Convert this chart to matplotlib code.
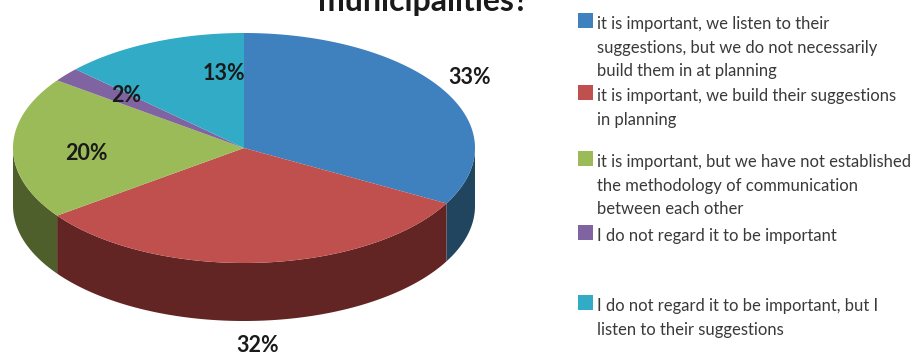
import numpy as np
import matplotlib.pyplot as plt
from matplotlib.patches import Rectangle

# ── Data ──────────────────────────────────────────────────────
shares = [33, 32, 20, 2, 13]
labels = [
    "it is important, we listen to their\nsuggestions, but we do not necessarily\nbuild them in at planning",
    "it is important, we build their suggestions\nin planning",
    "it is important, but we have not established\nthe methodology of communication\nbetween each other",
    "I do not regard it to be important",
    "I do not regard it to be important, but I\nlisten to their suggestions",
]
top_colors = ["#3f80bf", "#c0504d", "#9bbb59", "#8064a2", "#31abc6"]
side_colors = ["#21445f", "#622523", "#4f5f2c", "#403251", "#185664"]

# ── Layout (pixel space, y down) ──────────────────────────────
W, H = 924, 358
CX, CY = 244, 148          # centre of the top face
RX, RY = 231, 115          # ellipse radii
DEPTH = 58                 # thickness of the disc
label_xy = [(470, 77), (258, 346), (86, 154), (126, 96), (224, 73)]
legend_y = [20, 92, 158, 232, 302]

FONT = "Lato"

fig = plt.figure(figsize=(W / 100, H / 100), dpi=100)
ax = fig.add_axes([0, 0, 1, 1])
ax.set_xlim(0, W)
ax.set_ylim(H, 0)
ax.axis("off")


def ell(t, dy=0.0):
    t = np.radians(t)
    return CX + RX * np.cos(t), CY - RY * np.sin(t) + dy


# slice boundaries, clockwise from 12 o'clock
fracs = np.array(shares, dtype=float) / sum(shares)
starts = 90 - 360 * np.concatenate([[0], np.cumsum(fracs)[:-1]])
ends = starts - 360 * fracs

# front wall: only the part of each slice between -180° and 0° is visible
for a0, a1, col in zip(starts, ends, side_colors):
    hi, lo = min(a0, 0), max(a1, -180)
    if hi <= lo:
        continue
    t = np.linspace(lo, hi, 120)
    xt, yt = ell(t)
    xb, yb = ell(t[::-1], DEPTH)
    ax.fill(np.r_[xt, xb], np.r_[yt, yb], color=col, lw=0)

# top face
for a0, a1, col in zip(starts, ends, top_colors):
    t = np.linspace(a1, a0, 200)
    x, y = ell(t)
    ax.fill(np.r_[CX, x], np.r_[CY, y], color=col, lw=0)

# percentage labels
for (lx, ly), v in zip(label_xy, shares):
    ax.text(lx, ly, f"{v}%", ha="center", va="center", fontsize=15.5,
            fontweight="bold", color="#1a1a1a", family=FONT)

# title, cut by the top edge of the canvas
ax.text(423, 11, "municipalities?", ha="center", va="baseline",
        fontsize=23, fontweight="bold", color="#1a1a1a", family=FONT)

# legend
for y, txt, col in zip(legend_y, labels, top_colors):
    ax.add_patch(Rectangle((578, y - 7), 15, 15, color=col, lw=0))
    ax.text(597, y - 4, txt, ha="left", va="top", fontsize=12,
            color="#3a3a3a", family=FONT, linespacing=1.58)

fig.savefig("out.png", dpi=100)
